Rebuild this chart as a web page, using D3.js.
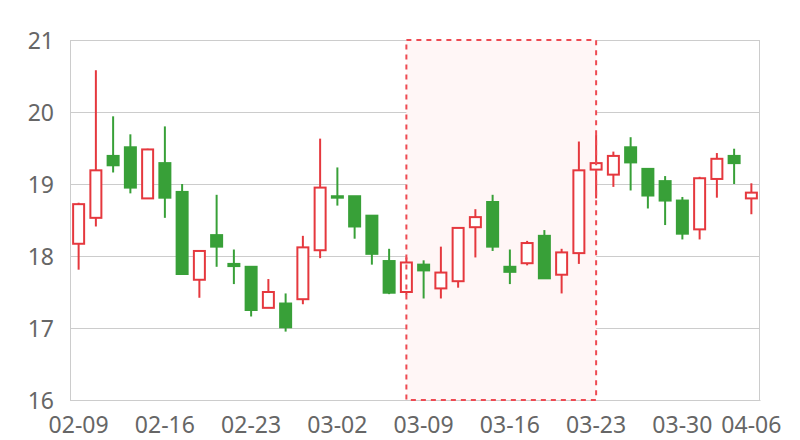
<!DOCTYPE html>
<html>
<head>
<meta charset="utf-8">
<script src="https://cdn.jsdelivr.net/npm/d3@7"></script>
<style>
  html, body { margin: 0; padding: 0; background: #fff; }
  svg { display: block; }
  text { font-family: "Noto Sans", "Liberation Sans", sans-serif; }
</style>
</head>
<body>
<svg id="chart" width="800" height="440"></svg>
<script>
const dates = ["02-09","02-10","02-11","02-12","02-13",
  "02-16","02-17","02-18","02-19","02-20",
  "02-23","02-24","02-25","02-26","02-27",
  "03-02","03-03","03-04","03-05","03-06",
  "03-09","03-10","03-11","03-12","03-13",
  "03-16","03-17","03-18","03-19","03-20",
  "03-23","03-24","03-25","03-26","03-27",
  "03-30","03-31","04-01","04-02","04-06"];
const open  = [18.17,18.53,19.39,19.51,18.80,19.29,18.89,17.67,18.29,17.89,
  17.85,17.28,17.34,17.40,18.08,18.83,18.83,18.56,17.93,17.50,
  17.88,17.55,17.65,18.40,18.75,17.85,17.90,18.28,17.74,18.04,
  19.20,19.13,19.51,19.21,19.04,18.77,18.37,19.07,19.39,18.80];
const close = [18.72,19.19,19.26,18.95,19.48,18.81,17.75,18.07,18.13,17.86,
  17.25,17.50,17.01,18.12,18.95,18.81,18.41,18.03,17.49,17.91,
  17.80,17.77,18.39,18.54,18.13,17.78,18.18,17.69,18.05,19.19,
  19.29,19.39,19.30,18.84,18.77,18.31,19.08,19.35,19.29,18.88];
const low   = [17.81,18.41,19.16,18.87,18.80,18.53,17.75,17.42,17.85,17.61,
  17.16,17.28,16.95,17.33,17.97,18.70,18.24,17.88,17.47,17.46,
  17.41,17.41,17.56,17.98,18.07,17.61,17.87,17.69,17.48,17.89,
  18.80,18.96,18.91,18.66,18.43,18.23,18.23,18.81,19.00,18.58];
const high  = [18.74,20.58,19.94,19.69,19.49,19.80,19.00,18.07,18.85,18.09,
  17.85,17.68,17.48,18.28,19.63,19.23,18.83,18.56,18.10,17.98,
  17.94,18.13,18.39,18.65,18.85,18.09,18.21,18.36,18.10,19.59,
  19.68,19.45,19.65,19.21,19.11,18.82,19.10,19.43,19.49,19.01];
const tickLabels = ["02-09","02-16","02-23","03-02","03-09","03-16","03-23","03-30","04-06"];
const yTicks = [16,17,18,19,20,21];
const markRange = ["03-06","03-23"];

const UP = "#e5383e", DOWN = "#38a038";
const margin = {left: 70, right: 40, top: 40, bottom: 40};
const W = 800, H = 440;
const svg = d3.select("#chart");

const x = d3.scaleBand().domain(dates).range([margin.left, W - margin.right]).paddingInner(0).paddingOuter(0);
const y = d3.scaleLinear().domain([16, 21]).range([H - margin.bottom, margin.top]);
const cx = d => x(d) + x.bandwidth() / 2;

// grid + y axis
const yAxis = d3.axisLeft(y).tickValues(yTicks).tickSize(-(W - margin.left - margin.right)).tickPadding(16).tickFormat(d3.format("d"));
const gy = svg.append("g").attr("transform", `translate(${margin.left},0)`).call(yAxis);
gy.select(".domain").remove();
gy.selectAll(".tick line").attr("stroke", "#cccccc").attr("stroke-width", 1);
gy.selectAll(".tick text").attr("fill", "#666").attr("font-size", 23).attr("dy", "0.35em");

// left and right border lines
svg.append("line").attr("x1", margin.left + 0.5).attr("x2", margin.left + 0.5)
  .attr("y1", y(21)).attr("y2", y(16)).attr("stroke", "#cccccc");
svg.append("line").attr("x1", W - margin.right - 0.5).attr("x2", W - margin.right - 0.5)
  .attr("y1", y(21)).attr("y2", y(16)).attr("stroke", "#cccccc");

// x axis labels
const xAxis = d3.axisBottom(x).tickValues(tickLabels).tickSize(0).tickPadding(17);
const gx = svg.append("g").attr("transform", `translate(0,${y(16)})`).call(xAxis);
gx.select(".domain").attr("stroke", "#cccccc");
gx.selectAll(".tick text").attr("fill", "#666").attr("font-size", 23);

// mark area
const mx0 = cx(markRange[0]), mx1 = cx(markRange[1]);
svg.append("rect").attr("x", mx0).attr("y", y(21)).attr("width", mx1 - mx0).attr("height", y(16) - y(21))
  .attr("fill", "#fff6f6");

// candles
const data = dates.map((d, i) => ({d, o: open[i], c: close[i], l: low[i], h: high[i]}));
const bw = Math.round(x.bandwidth() * 0.62);
const g = svg.append("g");
g.selectAll("line.wick").data(data).join("line")
  .attr("x1", d => cx(d.d)).attr("x2", d => cx(d.d))
  .attr("y1", d => y(d.h)).attr("y2", d => y(d.l))
  .attr("stroke", d => d.c >= d.o ? UP : DOWN).attr("stroke-width", 2);
g.selectAll("rect.body").data(data).join("rect")
  .attr("x", d => cx(d.d) - bw / 2)
  .attr("y", d => y(Math.max(d.o, d.c)))
  .attr("width", bw)
  .attr("height", d => Math.max(1, y(Math.min(d.o, d.c)) - y(Math.max(d.o, d.c))))
  .attr("fill", d => d.c >= d.o ? "#ffffff" : DOWN)
  .attr("stroke", d => d.c >= d.o ? UP : DOWN)
  .attr("stroke-width", 2);

// mark area border
svg.append("rect").attr("x", mx0).attr("y", y(21)).attr("width", mx1 - mx0).attr("height", y(16) - y(21))
  .attr("fill", "none").attr("stroke", "#ee4a52").attr("stroke-width", 2).attr("stroke-dasharray", "5,5");
</script>
</body>
</html>
